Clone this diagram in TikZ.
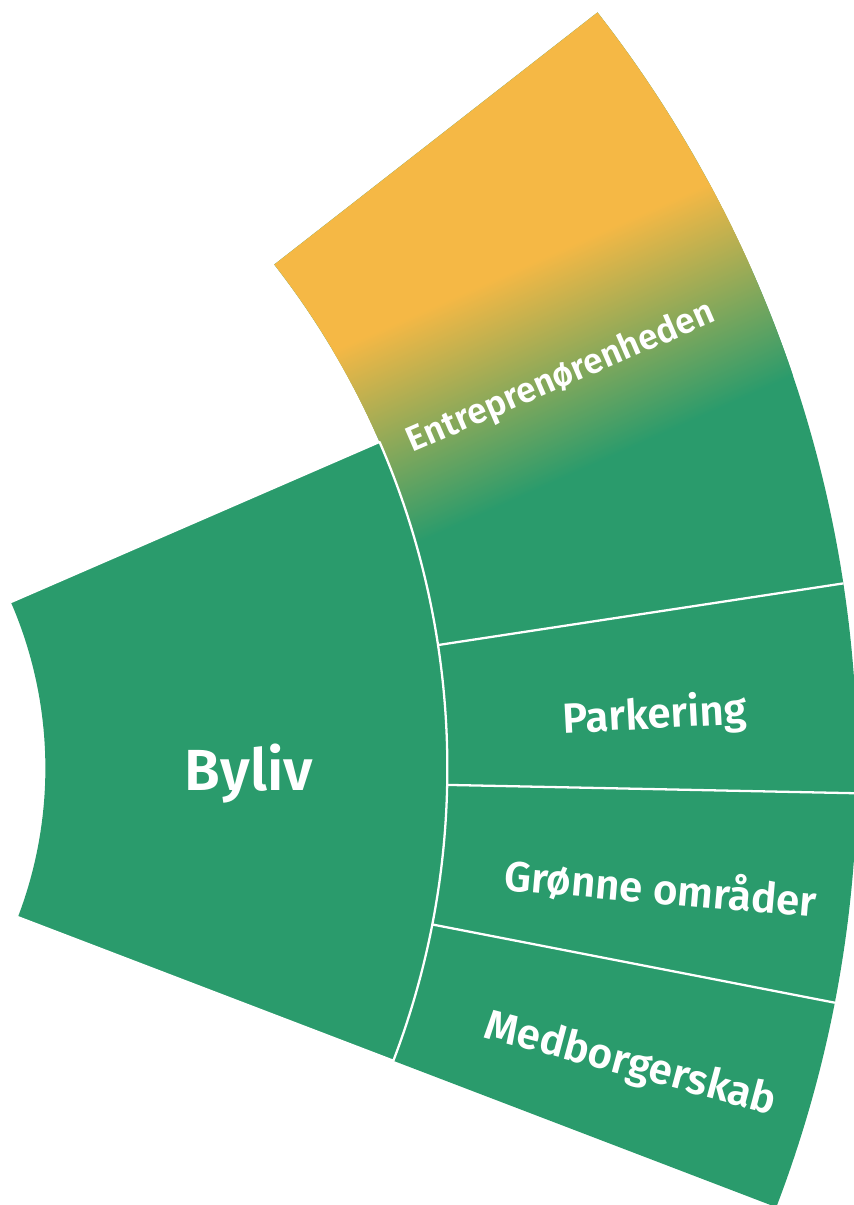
\documentclass[tikz,border=0pt]{standalone}
\usepackage{fontspec}
\setmainfont{Fira Sans}
\IfFontExistsTF{Fira Sans SemiBold}
  {\newfontfamily\labelfont{Fira Sans SemiBold}}
  {\newfontfamily\labelfont{Fira Sans}[UprightFont=*,UprightFeatures={FakeBold=1}]}

\definecolor{bylivGreen}{HTML}{2A9B6C}
\definecolor{entreYellow}{HTML}{F5B845}

\tikzset{
  ringtext/.style={text=white, inner sep=0pt, anchor=base},
  ringborder/.style={draw=white, line width=1.3pt, line join=round}
}

\begin{document}
\begin{tikzpicture}[x=0.02cm, y=0.02cm]
    % Definir los radios
    \def\ri{417}
    \def\rm{819}
    \def\ro{1229}

    % Marco de la figura
    \useasboundingbox (371.6,-436.8) rectangle (1225.6,768.2);

    % Anillo interior: Byliv
    \fill[bylivGreen] (23.48:\ri) -- (23.48:\rm)
        arc[start angle=23.48, end angle=-20.93, radius=\rm]
        -- (-20.93:\ri) arc[start angle=-20.93, end angle=23.48, radius=\ri] -- cycle;

    % Anillo exterior
    \foreach \a/\b in {37.95/8.65, 8.65/-1.17, -1.17/-11, -11/-20.93}
        \fill[bylivGreen] (\a:\rm) -- (\a:\ro)
            arc[start angle=\a, end angle=\b, radius=\ro]
            -- (\b:\rm) arc[start angle=\b, end angle=\a, radius=\rm] -- cycle;

    % Degradado del primer sector
    \begin{scope}
        \clip (37.95:\rm) -- (37.95:\ro)
            arc[start angle=37.95, end angle=8.65, radius=\ro]
            -- (8.65:\rm) arc[start angle=8.65, end angle=37.95, radius=\rm] -- cycle;
        \begin{scope}[transform canvas={rotate=24}]
            \fill[entreYellow] (600,0) rectangle (1400,600);
            \shade[bottom color=bylivGreen, top color=entreYellow] (600,-115) rectangle (1400,95);
        \end{scope}
    \end{scope}

    % Bordes blancos
    \draw[ringborder] (23.48:\ri) -- (23.48:\rm)
        arc[start angle=23.48, end angle=-20.93, radius=\rm]
        -- (-20.93:\ri);
    \foreach \a in {8.65, -1.17, -11}
        \draw[ringborder] (\a:\rm) -- (\a:\ro);

    % Textos
    \node[ringtext, font=\labelfont\fontsize{33}{40}\selectfont] (byliv) at (620.6,-21.8) {Byliv};
    \node[ringtext, font=\labelfont\fontsize{20}{24}\selectfont, rotate=23.4] (entre) at (936.6,381.5) {Entreprenørenheden};
    \node[ringtext, font=\labelfont\fontsize{24}{29}\selectfont, rotate=3] (parkering) at (1027.4,39.7) {Parkering};
    \node[ringtext, font=\labelfont\fontsize{24}{29}\selectfont, rotate=-5] (groenne) at (1030.8,-135.5) {Grønne områder};
    \node[ringtext, font=\labelfont\fontsize{24}{29}\selectfont, rotate=-15] (medborger) at (999.1,-307.6) {Medborgerskab};
\end{tikzpicture}
\end{document}
